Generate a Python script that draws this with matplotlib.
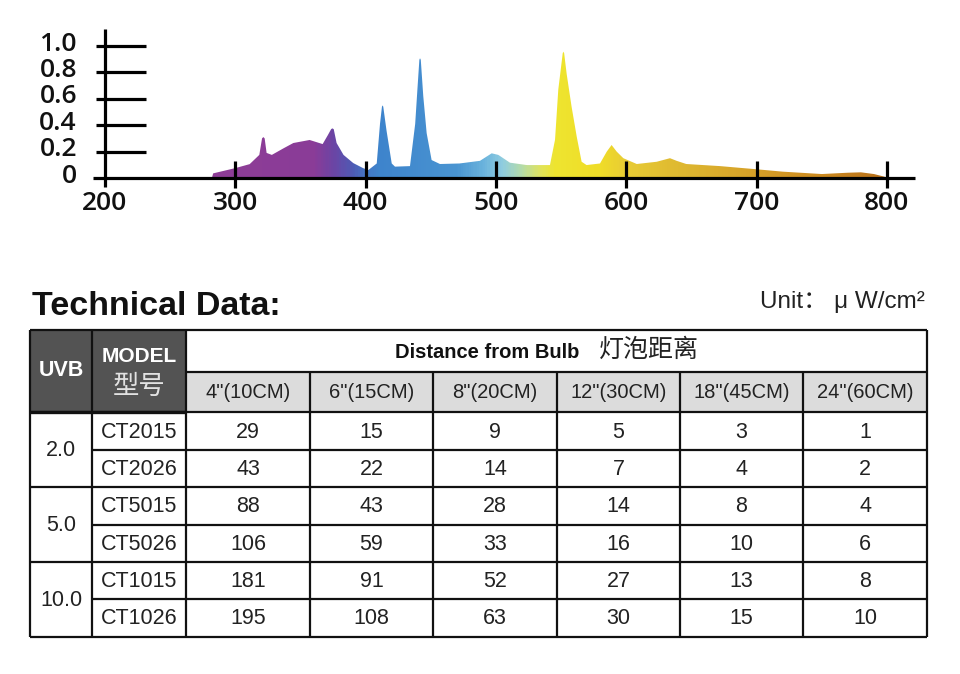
import matplotlib.pyplot as plt
import numpy as np
from matplotlib.colors import LinearSegmentedColormap
from matplotlib.patches import Rectangle

# --- DATA ---
wavelength = [282, 283, 300, 311, 318.4, 320.5, 321.5, 322.5, 324, 328, 337, 344.5, 357,
              367, 371, 373.5, 374.4, 375.5, 377.7, 383, 390.5, 398, 402, 408.5, 411,
              412.5, 413, 413.5, 416, 420, 422.5, 434, 438, 439.7, 441.2, 441.7, 442.3,
              444.2, 446.8, 450.6, 457, 472, 487.7, 496.7, 501.8, 510.7, 523.6, 541.4,
              545.3, 547.8, 551.2, 551.7, 552.3, 554.2, 558, 562, 565.7, 569.5, 579.8,
              585, 588.7, 592.6, 597.7, 608, 623.3, 633.5, 638.6, 646, 672, 700, 720,
              750, 770, 780, 790, 798, 800]
intensity = [0.0, 0.035, 0.075, 0.105, 0.175, 0.3, 0.31, 0.3, 0.19, 0.175, 0.225, 0.265,
             0.288, 0.257, 0.325, 0.37, 0.376, 0.37, 0.265, 0.175, 0.113, 0.075, 0.06,
             0.11, 0.41, 0.54, 0.55, 0.54, 0.36, 0.11, 0.086, 0.09, 0.41, 0.67, 0.895,
             0.907, 0.895, 0.62, 0.34, 0.136, 0.106, 0.11, 0.13, 0.187, 0.175, 0.116,
             0.098, 0.098, 0.29, 0.67, 0.945, 0.957, 0.945, 0.79, 0.54, 0.31, 0.123,
             0.098, 0.11, 0.2, 0.25, 0.2, 0.15, 0.106, 0.123, 0.15, 0.13, 0.106, 0.09,
             0.066, 0.048, 0.03, 0.04, 0.043, 0.03, 0.01, 0.0]
x_ticks = [200, 300, 400, 500, 600, 700, 800]
y_ticks = [0, 0.2, 0.4, 0.6, 0.8, 1.0]
y_tick_labels = ['0', '0.2', '0.4', '0.6', '0.8', '1.0']

# colour of the light at each wavelength
color_nm = [280, 360, 375, 390, 400, 410, 470, 490, 505, 520, 535, 545, 580, 600, 650, 700, 750, 800]
color_hex = ['#8e3e96', '#8a3c98', '#6b45a5', '#4e5cb5', '#4478c5', '#3e84cc', '#4a95d2',
             '#6ab3dd', '#90cde0', '#b5dca8', '#e2e45a', '#eee530', '#f0dd28', '#e8cc35',
             '#ddb530', '#d6a028', '#cc8a20', '#b8701a']

uvb_levels = ['2.0', '5.0', '10.0']
models = ['CT2015', 'CT2026', 'CT5015', 'CT5026', 'CT1015', 'CT1026']
distances = ['4"(10CM)', '6"(15CM)', '8"(20CM)', '12"(30CM)', '18"(45CM)', '24"(60CM)']
readings = [
    [29, 15, 9, 5, 3, 1],
    [43, 22, 14, 7, 4, 2],
    [88, 43, 28, 14, 8, 4],
    [106, 59, 33, 16, 10, 6],
    [181, 91, 52, 27, 13, 8],
    [195, 108, 63, 30, 15, 10],
]

TABLE_FONT = ['Liberation Sans', 'Noto Sans CJK SC', 'DejaVu Sans']
CJK_FONT = ['Noto Sans CJK SC', 'DejaVu Sans']
AXIS_FONT = ['Open Sans', 'DejaVu Sans']

fig = plt.figure(figsize=(9.6, 6.74), dpi=100)
fig.patch.set_facecolor('white')

# --- 1. Spectrum ---
ax = fig.add_axes([80 / 960, (674 - 200) / 674, 850 / 960, 180 / 674])
ax.set_xlim(180.82, 833.0)
ax.set_ylim(-0.1667, 1.197)
ax.axis('off')

stops = [(n - color_nm[0]) / (color_nm[-1] - color_nm[0]) for n in color_nm]
cmap = LinearSegmentedColormap.from_list('spec', list(zip(stops, color_hex)))
grad = np.linspace(0, 1, 600).reshape(1, -1)
im = ax.imshow(grad, cmap=cmap, aspect='auto', origin='lower',
               extent=[color_nm[0], color_nm[-1], 0, 1.0], zorder=1)
poly = ax.fill(wavelength, intensity, facecolor='none', edgecolor='none')[0]
im.set_clip_path(poly)

lw_ax = 2.3
ax.plot([190.8, 821.5], [0, 0], color='black', lw=lw_ax, solid_capstyle='butt', zorder=3)
ax.plot([200, 200], [-0.07, 1.13], color='black', lw=lw_ax, solid_capstyle='butt', zorder=3)
ax.hlines(y_ticks[1:], 193, 231.5, color='black', lw=lw_ax, zorder=3)
ax.vlines(x_ticks[1:], -0.075, 0.13, color='black', lw=lw_ax, zorder=3)

for v, lab in zip(y_ticks, y_tick_labels):
    ax.text(178.5, v + 0.015, lab, ha='right', va='center', fontsize=19,
            family=AXIS_FONT, weight='semibold', color='#111')
for t in x_ticks:
    ax.text(t, -0.19, str(t), ha='center', va='center', fontsize=19,
            family=AXIS_FONT, weight='semibold', color='#111')

# --- 2. Table (pixel coordinates) ---
tx = fig.add_axes([0, 0, 1, 0.62])
tx.set_xlim(0, 960)
tx.set_ylim(674, 674 - 0.62 * 674)
tx.axis('off')

tx.text(32, 315, 'Technical Data:', ha='left', va='baseline', fontsize=24.5,
        weight='heavy', family=TABLE_FONT, color='#111')
tx.text(925, 302, 'Unit： μ W/cm²', ha='right', va='center', fontsize=17.5,
        family=TABLE_FONT, color='#222')

col_x = [30, 92, 186, 310, 433, 557, 680, 803, 927]
row_y = [330, 372, 412, 450, 487, 525, 562, 599, 637]

# backgrounds
tx.add_patch(Rectangle((col_x[0], row_y[0]), col_x[2] - col_x[0], row_y[2] - row_y[0],
                       facecolor='#535353', edgecolor='none', zorder=1))
tx.add_patch(Rectangle((col_x[2], row_y[1]), col_x[-1] - col_x[2], row_y[2] - row_y[1],
                       facecolor='#dcdcdc', edgecolor='none', zorder=1))

lw_t = 1.6
kw = dict(color='#111', lw=lw_t, zorder=3)
# horizontal lines
tx.hlines([row_y[0], row_y[2], row_y[4], row_y[6], row_y[8]], col_x[0], col_x[-1], **kw)
tx.hlines(row_y[1], col_x[2], col_x[-1], **kw)
tx.hlines([row_y[3], row_y[5], row_y[7]], col_x[1], col_x[-1], **kw)
tx.hlines(row_y[2], col_x[0], col_x[2], color='#111', lw=2.4, zorder=3)
# vertical lines
tx.vlines([col_x[0], col_x[1], col_x[2], col_x[-1]], row_y[0], row_y[-1], **kw)
tx.vlines(col_x[3:-1], row_y[1], row_y[-1], **kw)

# header text
tx.text((col_x[0] + col_x[1]) / 2, 371, 'UVB', ha='center', va='center', fontsize=15.5,
        weight='bold', color='white', family=TABLE_FONT, zorder=4)
tx.text((col_x[1] + col_x[2]) / 2, 357, 'MODEL', ha='center', va='center', fontsize=15,
        weight='bold', color='white', family=TABLE_FONT, zorder=4)
tx.text((col_x[1] + col_x[2]) / 2, 386, '型号', ha='center', va='center', fontsize=19,
        color='#e2e2e2', family=CJK_FONT, zorder=4)
tx.text(579, 352, 'Distance from Bulb', ha='right', va='center', fontsize=14.5,
        weight='bold', color='#111', family=TABLE_FONT, zorder=4)
tx.text(599, 350, '灯泡距离', ha='left', va='center', fontsize=18,
        color='#222', family=CJK_FONT, zorder=4)

for i, d in enumerate(distances):
    tx.text((col_x[i + 2] + col_x[i + 3]) / 2, (row_y[1] + row_y[2]) / 2 + 1, d,
            ha='center', va='center', fontsize=14.5, color='#222', family=TABLE_FONT, zorder=4)

# UVB groups (two models each)
for g, lev in enumerate(uvb_levels):
    yc = (row_y[2 + 2 * g] + row_y[4 + 2 * g]) / 2 + 1
    tx.text((col_x[0] + col_x[1]) / 2, yc, lev, ha='center', va='center', fontsize=15.5,
            color='#222', family=TABLE_FONT, zorder=4)

for r, (m, vals) in enumerate(zip(models, readings)):
    yc = (row_y[2 + r] + row_y[3 + r]) / 2 + 1
    tx.text((col_x[1] + col_x[2]) / 2, yc, m, ha='center', va='center', fontsize=15.5,
            color='#222', family=TABLE_FONT, zorder=4)
    for c, v in enumerate(vals):
        tx.text((col_x[c + 2] + col_x[c + 3]) / 2, yc, str(v), ha='center', va='center',
                fontsize=15.5, color='#222', family=TABLE_FONT, zorder=4)

fig.savefig('out.png', dpi=100, facecolor='white')
